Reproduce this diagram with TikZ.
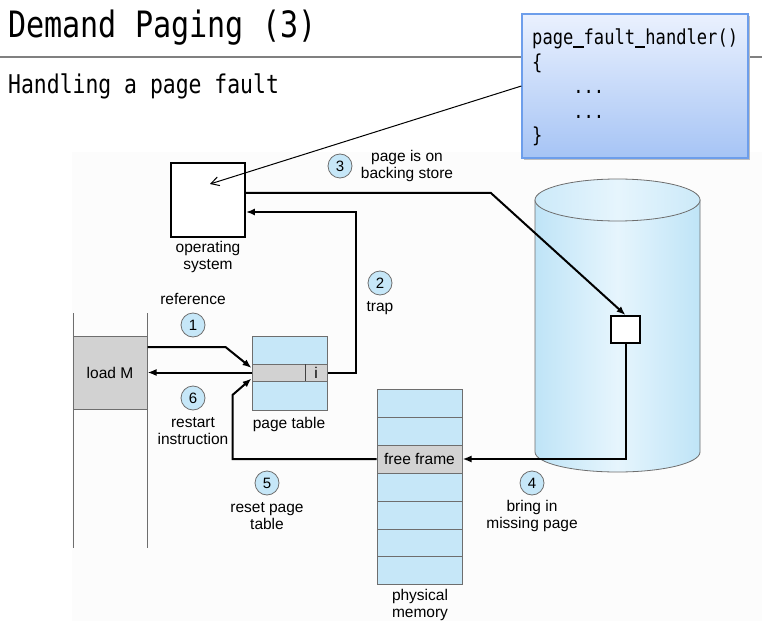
\documentclass[tikz,border=0pt]{standalone}
\usepackage{fontspec}
\setmainfont{Liberation Sans}
\newfontfamily\titlemono[FakeStretch=0.83]{DejaVu Sans Mono}
\usetikzlibrary{arrows.meta,calc}
\newcommand\myusc{\makebox[0.5em][l]{\rule[-2.6pt]{0.5em}{1.2pt}}}
\definecolor{lblue}{HTML}{C6E7F8}
\definecolor{cgray}{HTML}{D2D2D2}
\definecolor{bordergray}{HTML}{6E6E6E}
\definecolor{codetop}{HTML}{EAF1FE}
\definecolor{codebot}{HTML}{A6C4F5}
\definecolor{codeborder}{HTML}{6D9EEB}
\definecolor{cylside}{HTML}{BFE4F7}
\definecolor{cylmid}{HTML}{E6F5FD}
\definecolor{bgpanel}{HTML}{FCFCFC}
\begin{document}
\begin{tikzpicture}[x=1pt,y=-1pt,
  lab/.style={font=\fontsize{15.5}{16.5}\selectfont, align=center, inner sep=0pt},
  numcirc/.style={circle, draw=bordergray, line width=0.8pt, fill=lblue, minimum size=24pt, inner sep=0pt, font=\fontsize{15}{16}\selectfont},
  arr/.style={line width=2pt, -{Latex[length=9pt,width=7pt]}},
  thinarr/.style={line width=1pt, -{Straight Barb[length=8pt,width=9pt]}},
  codeline/.style={anchor=base west, inner sep=0pt, font=\titlemono\fontsize{20.6}{24}\selectfont},
  cell/.style={draw=bordergray, line width=1pt, fill=lblue, minimum width=85pt, minimum height=28pt, inner sep=0pt}
]
\useasboundingbox (0,0) rectangle (762,636);
\fill[white] (0,0) rectangle (762,636);
\fill[bgpanel] (72,152) rectangle (762,621);

% title and rule
\node[anchor=base west, inner sep=0pt, font=\titlemono\fontsize{36.3}{40}\selectfont] (title) at (8,38) {Demand Paging (3)};
\draw[gray, line width=1.6pt] (0,57) -- (762,57);
\node[anchor=base west, inner sep=0pt, font=\titlemono\fontsize{25.8}{30}\selectfont] (sub) at (8,94) {Handling a page fault};

% code box
\fill[black!25] (524,16) rectangle (750,160);
\node[draw=codeborder, line width=1.2pt, top color=codetop, bottom color=codebot, minimum width=226pt, minimum height=144pt, inner sep=0pt] (codebox) at (635,86) {};
\node[codeline] (cl1) at (532,45) {page\myusc fault\myusc handler()};
\node[codeline] (cl2) at (532,70) {\{};
\node[codeline] (cl3) at (532,94) {\ \ \ \ ...};
\node[codeline] (cl4) at (532,119) {\ \ \ \ ...};
\node[codeline] (cl5) at (532,143) {\}};

% operating system
\node[draw, line width=1.8pt, fill=white, minimum width=74pt, minimum height=74pt, inner sep=0pt] (os) at (208,200) {};
\coordinate (osin) at (210,184);
\node[lab] (oslab) at (208,257) {operating\\system};

% disk cylinder
\path[left color=cylside, right color=cylside, middle color=cylmid, draw=bordergray, line width=0.8pt]
  (535,200) -- (535,452) arc[start angle=180, end angle=360, x radius=82.5pt, y radius=20pt] -- (700,200) -- cycle;
\path[left color=cylside!80, right color=cylside!80, middle color=cylmid, draw=bordergray, line width=0.8pt]
  (617.5,200) ellipse[x radius=82.5pt, y radius=21pt];
\node[draw, line width=1.8pt, fill=white, minimum width=29pt, minimum height=27pt, inner sep=0pt] (blk) at (625.5,329.5) {};

% process memory with load M
\draw[bordergray, line width=1pt] (73,313) -- (73,548);
\draw[bordergray, line width=1pt] (147,313) -- (147,548);
\node[draw=bordergray, line width=1pt, fill=cgray, minimum width=74pt, minimum height=73pt, inner sep=0pt, font=\fontsize{15.5}{16.5}\selectfont] (loadm) at (110,372.5) {load M};

% page table
\node[draw=bordergray, line width=1pt, fill=lblue, minimum width=75pt, minimum height=74pt, inner sep=0pt] (pt) at (289.5,373) {};
\node[draw=bordergray, line width=1pt, fill=cgray, minimum width=75pt, minimum height=17pt, inner sep=0pt] (ptrow) at (289.5,372.5) {};
\draw[bordergray!60!black, line width=1pt] (305,364) -- (305,381);
\node[lab] (ibit) at (316,373) {i};
\node[lab] (ptlab) at (289,424) {page table};

% physical memory
\node[cell] (m1) at (419.5,403) {};
\node[cell] (m2) at (419.5,431) {};
\node[cell, fill=cgray, font=\fontsize{15.5}{16.5}\selectfont] (ff) at (419.5,459) {free frame};
\node[cell] (m4) at (419.5,487) {};
\node[cell] (m5) at (419.5,515) {};
\node[cell] (m6) at (419.5,543) {};
\node[cell] (m7) at (419.5,570.5) {};
\node[lab] (pmlab) at (420,605) {physical\\memory};

% step labels
\node[lab] (reflab) at (193,299) {reference};
\node[numcirc] (c1) at (193,325) {1};
\node[numcirc] (c2) at (380,283) {2};
\node[lab] (traplab) at (380,308) {trap};
\node[numcirc] (c3) at (340,166) {3};
\node[lab] (c3lab) at (407,166) {page is on\\backing store};
\node[numcirc] (c4) at (532,483) {4};
\node[lab] (c4lab) at (532,516) {bring in\\missing page};
\node[numcirc] (c5) at (267,483) {5};
\node[lab] (c5lab) at (267,516) {reset page\\table};
\node[numcirc] (c6) at (193,398) {6};
\node[lab] (c6lab) at (193,431) {restart\\instruction};

% connectors
\draw[thinarr] (codebox.west) -- (osin);
\draw[arr] ([yshift=25.5pt]loadm.east) -- ++(78,0) -- ([yshift=4.5pt]ptrow.west);
\draw[arr] (ptrow.west) -- (loadm.east);
\draw[arr] (ptrow.east) -- ++(28,0) |- ([yshift=-12pt]os.east);
\draw[arr] ([yshift=7pt]os.east) -- ++(245,0) -- (blk.north);
\draw[arr] (blk.south) |- (ff.east);
\draw[arr] (ff.west) -| ++(-144,-64) -- ([yshift=-6pt]ptrow.west);
\end{tikzpicture}
\end{document}
